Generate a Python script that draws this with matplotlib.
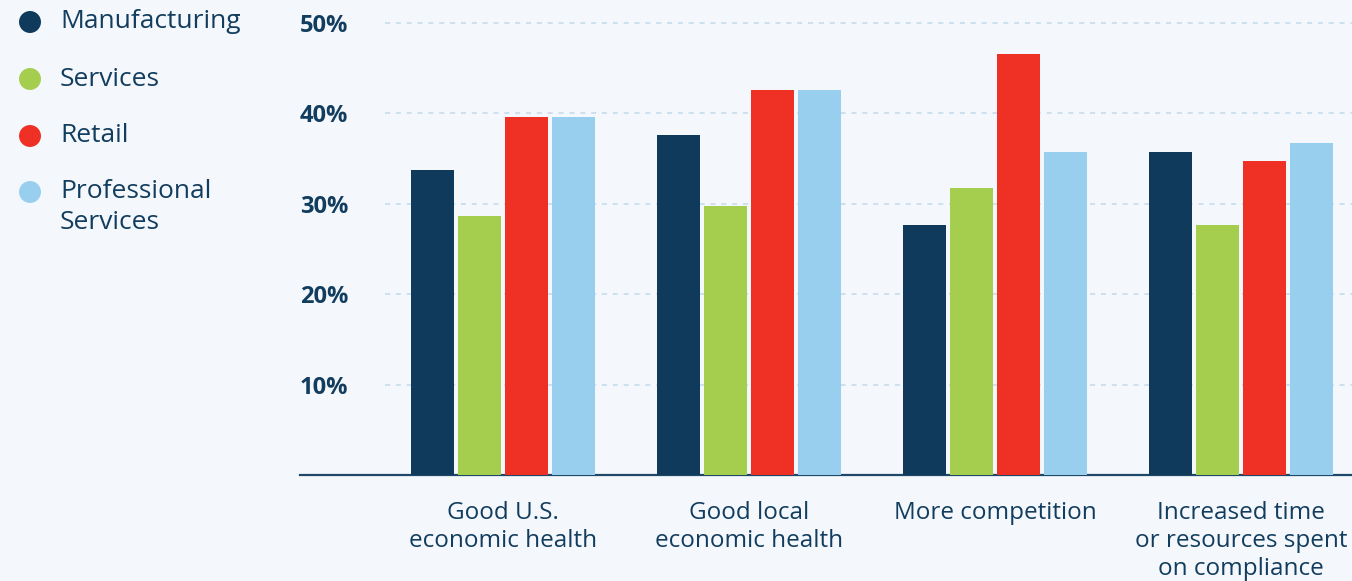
import matplotlib.pyplot as plt
import numpy as np

# data
categories = ["Good U.S.\neconomic health", "Good local\neconomic health",
              "More competition", "Increased time\nor resources spent\non compliance"]
series = ["Manufacturing", "Services", "Retail", "Professional\nServices"]
manufacturing = [33.7, 37.6, 27.7, 35.7]
services = [28.7, 29.7, 31.7, 27.7]
retail = [39.6, 42.6, 46.5, 34.7]
professional = [39.6, 42.6, 35.7, 36.7]
yticks = [10, 20, 30, 40, 50]

colors = ["#0f3a5c", "#a6ce4e", "#ee3124", "#98cfee"]
bg = "#f4f8fc"
text_c = "#123d5e"
font = "Open Sans"

W, H = 1352, 581
fig = plt.figure(figsize=(W / 100, H / 100), dpi=100)
fig.patch.set_facecolor(bg)

# main axes (pixel-tuned placement)
x0, y0, ytop = 300, 475.3, 22.7
ax = fig.add_axes([x0 / W, (H - y0) / H, 1 - x0 / W, (y0 - ytop) / H])
ax.set_facecolor(bg)

pitch = 47 / 246
width = 43 / 246
xs = np.arange(len(categories))
for j, vals in enumerate([manufacturing, services, retail, professional]):
    ax.bar(xs + (j - 1.5) * pitch, vals, width=width, color=colors[j], zorder=3)

xmin, xmax = -0.825, (W - 503) / 246
ax.set_xlim(xmin, xmax)
ax.set_ylim(0, 50)

# dashed grid starting a bit right of axis start
ax.hlines(yticks, (385 - 503) / 246, xmax, colors="#c3d9ea", linewidth=1.1,
          linestyles=(0, (3.3, 3.8)), zorder=1, clip_on=False)

for s in ["top", "right", "left"]:
    ax.spines[s].set_visible(False)
ax.spines["bottom"].set_color("#1d4868")
ax.spines["bottom"].set_linewidth(1.6)

ax.set_yticks(yticks)
ax.set_yticklabels([f"{v}%" for v in yticks], fontsize=17, fontweight="bold",
                   color=text_c, family=font)
ax.tick_params(axis="y", length=0, pad=0)
for t in ax.get_yticklabels():
    t.set_horizontalalignment("left")

ax.set_xticks(xs)
ax.set_xticklabels(categories, fontsize=17.5, color=text_c, family=font, linespacing=1.22)
ax.tick_params(axis="x", length=0, pad=18.5)

# legend drawn manually
lax = fig.add_axes([0, 0, x0 / W, 1])
lax.set_xlim(0, x0)
lax.set_ylim(H, 0)
lax.axis("off")
leg_y = [22, 79, 136, 207]
for name, c, y in zip(series, colors, leg_y):
    cy = y if "\n" not in name else y - 15
    lax.scatter(30, cy, s=250, color=c, edgecolors="none")
    lax.text(60, y, name, fontsize=19, color=text_c, family=font,
             va="center", ha="left", linespacing=1.32)

fig.savefig("out.png", dpi=100, facecolor=bg)
